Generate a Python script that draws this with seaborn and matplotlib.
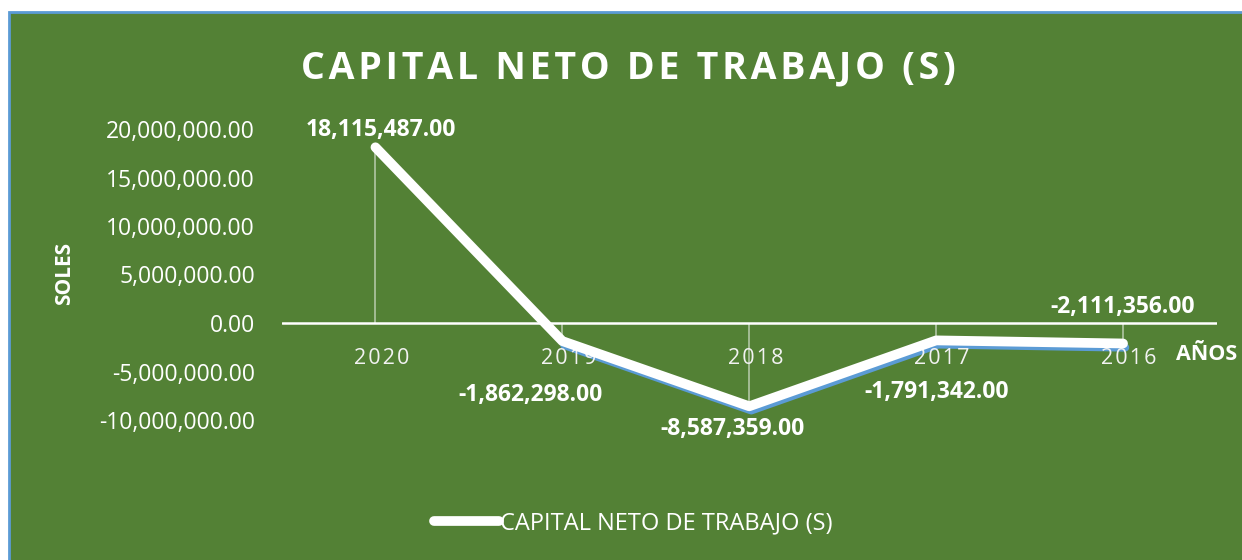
import numpy as np
import matplotlib
matplotlib.use('Agg')
from matplotlib import pyplot as plt
from matplotlib.patches import Rectangle
from matplotlib import transforms
import seaborn as sns

# data
years = ['2020', '2019', '2018', '2017', '2016']
capital = [18115487.00, -1862298.00, -8587359.00, -1791342.00, -2111356.00]
yticks = [-10000000, -5000000, 0, 5000000, 10000000, 15000000, 20000000]
# label offsets (pixels) from each point
lab_dx = [5, -32, -17, 0, 0]
lab_dy = [17, -54, -23, -52, 36]

green = '#538135'
blue = '#5B9BD5'

sns.set_theme(style='white')
plt.rcParams['font.family'] = ['Open Sans', 'DejaVu Sans']

fig = plt.figure(figsize=(12.42, 5.6), dpi=100)
fig.patch.set_facecolor('white')
# chart area background with the thin blue border
bg = Rectangle((9/1242, -0.01), 1.0, 1-12/560+0.01, transform=fig.transFigure,
               facecolor=green, edgecolor=blue, linewidth=2, zorder=-10)
fig.patches.append(bg)

ax = fig.add_axes([282/1242, 1-420/560, (1216.5-282)/1242, (420-129)/560])
ax.set_facecolor('none')
x = np.arange(len(years))

# drop lines
ax.vlines(x, 0, capital, colors='white', linewidth=1.2, alpha=0.55, zorder=1)
ax.axhline(0, color='white', linewidth=1.8, zorder=2)

# blue shadow under the negative part
shadow = ax.transData + transforms.ScaledTranslation(2/100, -4/100, fig.dpi_scale_trans)
ax.plot(x[1:], capital[1:], color=blue, linewidth=6, solid_capstyle='round',
        transform=shadow, zorder=3)

sns.lineplot(x=x, y=capital, ax=ax, color='white', linewidth=7, sort=False,
             label='CAPITAL NETO DE TRABAJO (S)', legend=False, zorder=4)
main = ax.lines[-1]
main.set_solid_capstyle('round')
main.set_solid_joinstyle('round')

for i, v in enumerate(capital):
    ax.annotate(f'{v:,.2f}', (x[i], v), xytext=(lab_dx[i], lab_dy[i]), textcoords='offset pixels',
                ha='center', va='center', color='white', fontsize=16.5, fontweight='bold', zorder=5)

# category labels sit under the zero line
for i, yr in enumerate(years):
    ax.annotate('\u200a'.join(yr), (x[i], 0), xytext=(6, -35), textcoords='offset pixels',
                ha='center', va='center', color='#f2f2f2', fontsize=15.5)

ax.set_xlim(-0.5, len(years) - 0.5)
ax.set_ylim(-10000000, 20000000)
ax.set_xticks([])
ax.set_yticks(yticks)
ax.set_yticklabels([f'{t:,.2f}' for t in yticks], color='white', fontsize=16.5)
ax.tick_params(axis='y', length=0, pad=19.5)
for s in ax.spines.values():
    s.set_visible(False)

fig.text(628/1242, 1-68/560, '\u200a'.join('CAPITAL NETO DE TRABAJO (S)'), ha='center', va='center',
         color='white', fontsize=27, fontweight='bold')
fig.text(65/1242, 1-273/560, 'SOLES', rotation=90, ha='center', va='center',
         color='white', fontsize=15, fontweight='bold')
fig.text(1207/1242, 1-355/560, 'AÑOS', ha='center', va='center',
         color='white', fontsize=15.5, fontweight='bold')

leg = fig.legend(handles=[main], labels=['CAPITAL NETO DE TRABAJO (S)'], loc='center',
                 bbox_to_anchor=(633/1242, 1-523/560), frameon=False, fontsize=17,
                 handlelength=2.75, handletextpad=0.05, labelcolor='white')

fig.savefig('out.png', dpi=100, facecolor=fig.get_facecolor())
